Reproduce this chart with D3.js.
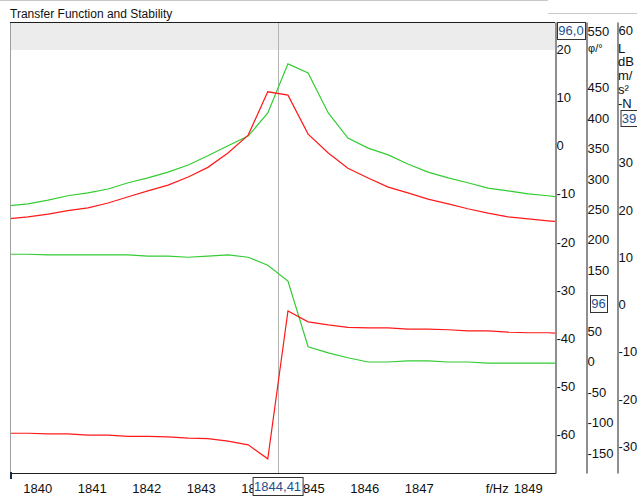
<!DOCTYPE html>
<html>
<head>
<meta charset="utf-8">
<script src="https://cdn.jsdelivr.net/npm/d3@7/dist/d3.min.js"></script>
<style>
  html, body { margin: 0; padding: 0; background: #ffffff; }
  svg { display: block; font-family: "Liberation Sans", Arial, sans-serif; }
</style>
</head>
<body>
<div id="chart"></div>
<script>
// ---- data ----
const FREQ = [1839.46, 1839.83, 1840.20, 1840.56, 1840.93, 1841.30, 1841.67, 1842.03, 1842.40, 1842.77,
  1843.13, 1843.50, 1843.87, 1844.23, 1844.60, 1844.97, 1845.34, 1845.70, 1846.07, 1846.44,
  1846.80, 1847.17, 1847.54, 1847.90, 1848.27, 1848.64, 1849.01, 1849.37, 1849.74];

// magnitude (left scale)
const MAG_GREEN = [-12.4, -12.0, -11.2, -10.3, -9.7, -8.9, -7.6, -6.6, -5.4, -3.9,
  -2.0, 0.1, 2.1, 6.9, 17.1, 15.2, 6.9, 1.7, -0.4, -1.8,
  -3.7, -5.4, -6.6, -7.6, -8.7, -9.3, -9.9, -10.3, -10.8];
const MAG_RED = [-15.1, -14.7, -14.1, -13.4, -12.8, -11.8, -10.5, -9.3, -8.1, -6.4,
  -4.4, -1.4, 2.3, 11.3, 10.6, 2.5, -1.4, -4.6, -6.6, -8.5,
  -9.7, -11.0, -12.0, -13.0, -13.9, -14.7, -15.1, -15.5, -15.9];

// phase φ/°
const PHASE_GREEN = [177, 177, 176, 176, 176, 176, 176, 174, 174, 172,
  174, 176, 172, 159, 133, 25, 15, 7, 0, 0,
  2, 2, 0, 0, -2, -2, -2, -2, -2];
const PHASE_RED = [-117, -117, -118, -118, -120, -120, -122, -122, -123, -125,
  -126, -130, -136, -159, 84, 66, 61, 57, 56, 56,
  54, 54, 53, 51, 51, 49, 48, 48, 46];

const X_TICKS = [1840, 1841, 1842, 1843, 1844, 1845, 1846, 1847, 1849];
const MAG_TICKS = [20, 10, 0, -10, -20, -30, -40, -50, -60];
const PHASE_TICKS = [550, 450, 400, 350, 300, 250, 200, 150, 50, 0, -50, -100, -150];
const ACC_TICKS = [60, 30, 20, 10, 0, -10, -20, -30];
const ACC_UNIT = ["L", "dB", "m/", "s²", "-N"];

const CURSOR_F = 1844.41;

// ---- config ----
const COLORS = {
  red: '#ff1a1a',
  green: '#33cc33',
  frame: '#1e1e1e',
  band: '#ececec',
  cursor: '#b4b4b4',
  text: '#111111',
  boxText: '#23508f'
};

const W = 637, H = 500;
const plot = { left: 10, right: 555, top: 22, bottom: 473 };

const svg = d3.select("#chart").append("svg")
  .attr("width", W).attr("height", H);

const x = d3.scaleLinear().domain([1839.5, 1849.5]).range([plot.left, plot.right]);
const yMag = d3.scaleLinear().domain([-67.9, 25.8]).range([plot.bottom, plot.top]);
const yPhase = d3.scaleLinear().domain([-182.3, 558.4]).range([plot.bottom, plot.top]);
const yAcc = d3.scaleLinear().domain([-35.5, 59.8]).range([plot.bottom, plot.top]);

// header lines
svg.append("line").attr("x1", 0).attr("x2", 548).attr("y1", 0.5).attr("y2", 0.5)
  .attr("stroke", "#c8c8c8");
svg.append("line").attr("x1", 548).attr("x2", W).attr("y1", 13.5).attr("y2", 13.5)
  .attr("stroke", "#c8c8c8");

svg.append("text")
  .attr("x", 10).attr("y", 18)
  .attr("font-size", "12px").attr("fill", COLORS.text)
  .text("Transfer Function and Stability");

// gray band at the top of the plot
svg.append("rect")
  .attr("x", plot.left).attr("y", plot.top)
  .attr("width", plot.right - plot.left).attr("height", yMag(20) - plot.top)
  .attr("fill", COLORS.band);

// clip
svg.append("clipPath").attr("id", "clip").append("rect")
  .attr("x", plot.left).attr("y", plot.top)
  .attr("width", plot.right - plot.left).attr("height", plot.bottom - plot.top);

// cursor
svg.append("line")
  .attr("x1", Math.round(x(CURSOR_F)) + 0.5).attr("x2", Math.round(x(CURSOR_F)) + 0.5)
  .attr("y1", plot.top).attr("y2", plot.bottom)
  .attr("stroke", COLORS.cursor).attr("stroke-width", 1);

const curves = [
  { vals: MAG_GREEN, scale: yMag, color: COLORS.green },
  { vals: MAG_RED, scale: yMag, color: COLORS.red },
  { vals: PHASE_GREEN, scale: yPhase, color: COLORS.green },
  { vals: PHASE_RED, scale: yPhase, color: COLORS.red }
];

const g = svg.append("g").attr("clip-path", "url(#clip)");
curves.forEach(c => {
  const line = d3.line()
    .x((d, i) => x(FREQ[i]))
    .y(d => c.scale(d));
  g.append("path")
    .attr("d", line(c.vals))
    .attr("fill", "none")
    .attr("stroke", c.color)
    .attr("stroke-width", 1.2);
});

// frame
svg.append("line").attr("x1", plot.left + 0.5).attr("x2", plot.left + 0.5)
  .attr("y1", plot.top).attr("y2", plot.bottom).attr("stroke", "#a0a0a0");
svg.append("line").attr("x1", plot.left).attr("x2", plot.right)
  .attr("y1", plot.top + 0.5).attr("y2", plot.top + 0.5).attr("stroke", COLORS.frame);
svg.append("line").attr("x1", plot.left).attr("x2", plot.right + 1)
  .attr("y1", plot.bottom + 0.5).attr("y2", plot.bottom + 0.5).attr("stroke", COLORS.frame);
svg.append("rect").attr("x", plot.left).attr("y", plot.bottom - 1)
  .attr("width", 2).attr("height", 7).attr("fill", "#1c2a4a");

// x axis
const xAxis = d3.axisBottom(x).tickValues(X_TICKS).tickSize(0).tickFormat(d => String(d));
const xg = svg.append("g").attr("transform", `translate(0,${plot.bottom})`).call(xAxis);
xg.select(".domain").remove();
xg.selectAll("text").attr("y", 11).attr("font-size", "13px").attr("fill", COLORS.text)
  .attr("font-family", "Liberation Sans, Arial, sans-serif");
svg.append("text")
  .attr("x", x(1849) - 19).attr("y", 493)
  .attr("text-anchor", "end").attr("font-size", "13px").attr("fill", COLORS.text)
  .text("f/Hz");

// right axes
function rightAxis(scale, ticks, xPos, topClamp) {
  const ax = d3.axisRight(scale).tickValues(ticks).tickSize(0).tickSizeOuter(0)
    .tickPadding(1).tickFormat(d => String(d));
  const ag = svg.append("g").attr("transform", `translate(${xPos},0)`).call(ax);
  ag.select(".domain").attr("stroke", COLORS.frame);
  ag.selectAll("text").attr("font-size", "13px").attr("fill", COLORS.text)
    .attr("font-family", "Liberation Sans, Arial, sans-serif");
  ag.selectAll(".tick")
    .attr("transform", d => `translate(0,${Math.max(scale(d), topClamp)})`);
  return ag;
}
rightAxis(yMag, MAG_TICKS, plot.right + 0.5, 31);
rightAxis(yPhase, PHASE_TICKS, 586.5, 32);
rightAxis(yAcc, ACC_TICKS, 617.5, 31);

// unit labels
svg.append("text").attr("x", 588).attr("y", 48).attr("dy", "0.35em")
  .attr("font-size", "11px").attr("fill", COLORS.text).text("φ/°");
svg.selectAll("text.acc-unit").data(ACC_UNIT).enter().append("text")
  .attr("class", "acc-unit")
  .attr("x", 618).attr("y", (d, i) => 48 + i * 13.8).attr("dy", "0.35em")
  .attr("font-size", "13px").attr("fill", COLORS.text).text(d => d);

// value boxes
function valueBox(cx, y, w, h, label) {
  svg.append("rect").attr("x", cx - w / 2 + 0.5).attr("y", y + 0.5)
    .attr("width", w).attr("height", h)
    .attr("fill", "#ffffff").attr("stroke", "#333333");
  svg.append("text").attr("x", cx).attr("y", y + h / 2).attr("dy", "0.35em")
    .attr("text-anchor", "middle").attr("font-size", "13px").attr("fill", COLORS.boxText)
    .text(label);
}
valueBox(571, 22, 28, 17, "96,0");
valueBox(598.5, 295, 17, 17, "96");
valueBox(629, 110, 17, 16, "39");
valueBox(x(CURSOR_F), 477, 50, 18, "1844,41");
</script>
</body>
</html>
